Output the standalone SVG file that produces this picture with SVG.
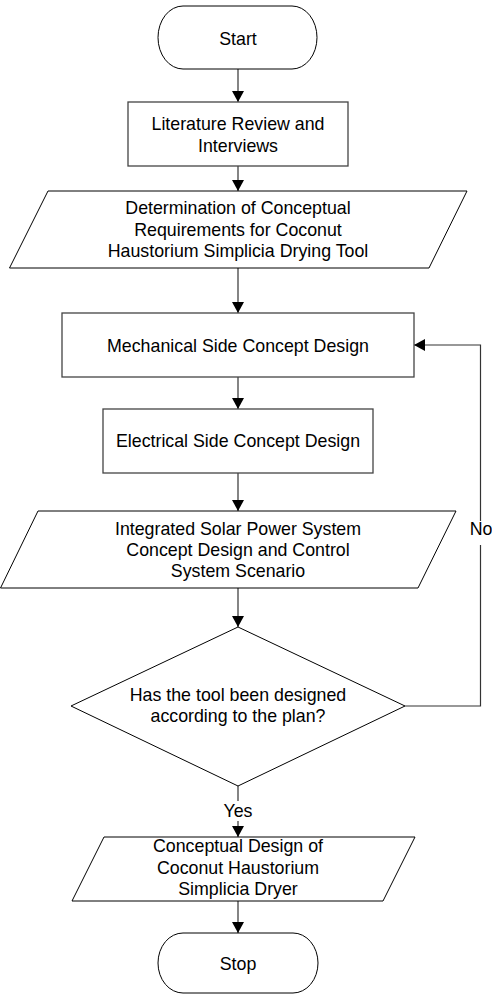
<svg xmlns="http://www.w3.org/2000/svg" width="492" height="994" viewBox="0 0 492 994">
<defs>
<marker id="arr" markerUnits="userSpaceOnUse" markerWidth="12" markerHeight="12" refX="11" refY="6" orient="auto">
<path d="M0,0 L11,6 L0,12 Z" fill="#000"/>
</marker>
<style>
.shape{fill:#fff;stroke:#000;stroke-width:1}
.box{fill:#fff;stroke:#444;stroke-width:1.3}
.t{font-family:"Liberation Sans",Arial,sans-serif;font-size:17.8px;fill:#000;text-anchor:middle}
.c{fill:none;stroke:#333;stroke-width:1.2}
</style>
</defs>
<rect width="492" height="994" fill="#fff"/>
<g id="connectors">
<path class="c" d="M238,69 V102" marker-end="url(#arr)"/>
<path class="c" d="M238,166 V191" marker-end="url(#arr)"/>
<path class="c" d="M238,268 V313" marker-end="url(#arr)"/>
<path class="c" d="M238,377 V409" marker-end="url(#arr)"/>
<path class="c" d="M238,473 V511" marker-end="url(#arr)"/>
<path class="c" d="M238,588 V627" marker-end="url(#arr)"/>
<path class="c" d="M238,786 V837" marker-end="url(#arr)"/>
<path class="c" d="M238,901 V933" marker-end="url(#arr)"/>
<path class="c" d="M405,706 H480.5 V345 H414" marker-end="url(#arr)"/>
<rect x="222" y="801" width="32" height="20" fill="#fff"/>
<text class="t" x="238" y="817">Yes</text>
<rect x="470" y="521" width="22" height="24" fill="#fff"/>
<text class="t" x="481" y="535">No</text>
</g>
<g id="start">
<rect class="shape" x="158" y="6" width="159" height="63" rx="25" ry="31.5"/>
<text class="t" x="238" y="45">Start</text>
</g>
<g id="literature">
<rect class="box" x="128" y="102" width="220" height="64"/>
<text class="t" x="238" y="130">Literature Review and</text>
<text class="t" x="238" y="152">Interviews</text>
</g>
<g id="requirements">
<polygon class="shape" points="48,191 467,191 429,268 9.5,268"/>
<text class="t" x="238" y="214">Determination of Conceptual</text>
<text class="t" x="238" y="235.5">Requirements for Coconut</text>
<text class="t" x="238" y="257">Haustorium Simplicia Drying Tool</text>
</g>
<g id="mechanical">
<rect class="box" x="62" y="313" width="352" height="64"/>
<text class="t" x="238" y="351.5">Mechanical Side Concept Design</text>
</g>
<g id="electrical">
<rect class="box" x="103" y="409" width="270" height="64"/>
<text class="t" x="238" y="447">Electrical Side Concept Design</text>
</g>
<g id="integrated">
<polygon class="shape" points="38,511 456,511 418,588 0.5,588"/>
<text class="t" x="238" y="535">Integrated Solar Power System</text>
<text class="t" x="238" y="556">Concept Design and Control</text>
<text class="t" x="238" y="577">System Scenario</text>
</g>
<g id="decision">
<polygon class="shape" points="238,627 405,706 238,786 71,706"/>
<text class="t" x="238" y="700.5">Has the tool been designed</text>
<text class="t" x="238" y="722">according to the plan?</text>
</g>
<g id="conceptual">
<polygon class="shape" points="104,837 415,837 383,901 72,901"/>
<text class="t" x="238" y="852">Conceptual Design of</text>
<text class="t" x="238" y="873.5">Coconut Haustorium</text>
<text class="t" x="238" y="895">Simplicia Dryer</text>
</g>
<g id="stop">
<rect class="shape" x="158" y="933" width="160" height="60" rx="25" ry="30"/>
<text class="t" x="238" y="970">Stop</text>
</g>
</svg>
